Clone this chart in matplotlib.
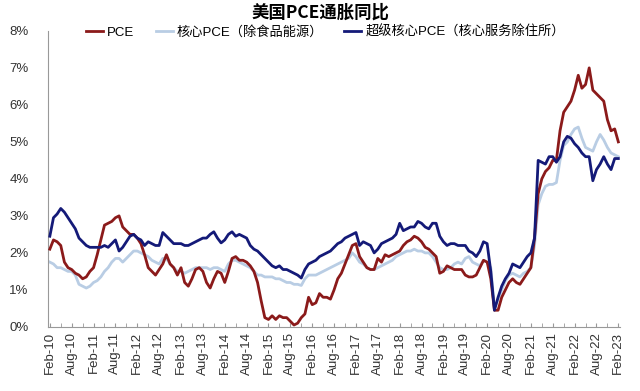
import numpy as np
import pandas as pd
import matplotlib
matplotlib.use("Agg")
import matplotlib.pyplot as plt

plt.rcParams['font.family'] = ['Liberation Sans', 'Noto Sans CJK SC', 'DejaVu Sans']

# monthly, Feb-10 .. Feb-23 (YoY %)
start = "2010-02-01"

pce = [
    2.1, 2.35, 2.3, 2.2, 1.75, 1.6, 1.55, 1.45, 1.4, 1.3, 1.35, 1.5,
    1.6, 1.95, 2.35, 2.75, 2.8, 2.85, 2.95, 3.0, 2.7, 2.6, 2.5, 2.5,
    2.4, 2.25, 1.95, 1.6, 1.5, 1.4, 1.55, 1.7, 1.95, 1.7, 1.6, 1.4,
    1.6, 1.2, 1.1, 1.3, 1.55, 1.6, 1.5, 1.2, 1.05, 1.3, 1.5, 1.45,
    1.2, 1.5, 1.85, 1.9, 1.8, 1.8, 1.75, 1.65, 1.5, 1.2, 0.7, 0.25,
    0.2, 0.3, 0.2, 0.3, 0.25, 0.25, 0.15, 0.05, 0.1, 0.25, 0.35, 0.8,
    0.6, 0.65, 0.9, 0.8, 0.8, 0.75, 1.0, 1.3, 1.45, 1.7, 1.95, 2.2,
    2.25, 1.9, 1.75, 1.6, 1.55, 1.55, 1.85, 1.75, 1.95, 1.9, 1.95, 2.0,
    2.05, 2.2, 2.3, 2.35, 2.45, 2.4, 2.3, 2.15, 2.1, 2.0, 1.9, 1.45,
    1.5, 1.65, 1.6, 1.55, 1.55, 1.55, 1.4, 1.35, 1.35, 1.4, 1.6, 1.8,
    1.75, 1.3, 0.45, 0.45, 0.8, 1.0, 1.2, 1.3, 1.2, 1.15, 1.3, 1.45,
    1.6, 2.4, 3.6, 4.0, 4.2, 4.3, 4.5, 4.5, 5.3, 5.8, 5.95, 6.1,
    6.4, 6.8, 6.45, 6.55, 7.0, 6.4, 6.3, 6.2, 6.1, 5.6, 5.3, 5.35,
    5.0,
]

core = [
    1.75, 1.7, 1.6, 1.6, 1.55, 1.5, 1.5, 1.4, 1.15, 1.1, 1.05, 1.1,
    1.2, 1.25, 1.35, 1.5, 1.6, 1.75, 1.85, 1.85, 1.75, 1.85, 1.95, 2.05,
    2.05, 2.0, 1.95, 1.9, 1.8, 1.75, 1.7, 1.85, 1.85, 1.7, 1.6, 1.5,
    1.5, 1.45, 1.5, 1.55, 1.6, 1.6, 1.6, 1.6, 1.55, 1.6, 1.6, 1.55,
    1.5, 1.7, 1.8, 1.8, 1.75, 1.7, 1.65, 1.6, 1.5, 1.4, 1.4, 1.35,
    1.35, 1.35, 1.3, 1.3, 1.25, 1.2, 1.2, 1.15, 1.15, 1.12, 1.3, 1.4,
    1.4, 1.4, 1.45, 1.5, 1.55, 1.6, 1.65, 1.7, 1.75, 1.8, 1.85, 2.0,
    1.9, 1.75, 1.7, 1.6, 1.55, 1.55, 1.6, 1.65, 1.7, 1.75, 1.8, 1.9,
    1.95, 2.0, 2.05, 2.05, 2.1, 2.05, 2.05, 2.0, 2.0, 1.9, 1.75, 1.6,
    1.55, 1.55, 1.6, 1.7, 1.75, 1.7, 1.85, 1.9, 1.75, 1.7, 1.65, 1.8,
    1.75, 1.6, 0.5, 0.75, 1.0, 1.25, 1.4, 1.45, 1.4, 1.35, 1.45, 1.5,
    1.6, 2.2, 3.3, 3.6, 3.8, 3.85, 3.85, 3.9, 4.5, 4.9, 5.0, 5.2,
    5.35, 5.4, 5.1, 4.85, 4.8, 4.75, 5.0, 5.2, 5.05, 4.85, 4.7, 4.65,
    4.6,
]

supercore = [
    2.45, 2.95, 3.05, 3.2, 3.1, 2.95, 2.8, 2.65, 2.4, 2.3, 2.2, 2.15,
    2.15, 2.15, 2.15, 2.2, 2.15, 2.25, 2.35, 2.05, 2.15, 2.3, 2.45, 2.5,
    2.4, 2.35, 2.2, 2.3, 2.25, 2.2, 2.2, 2.55, 2.45, 2.35, 2.25, 2.25,
    2.25, 2.2, 2.2, 2.25, 2.3, 2.35, 2.4, 2.4, 2.5, 2.57, 2.4, 2.27,
    2.35, 2.5, 2.57, 2.45, 2.5, 2.45, 2.4, 2.2, 2.1, 2.05, 1.95, 1.85,
    1.75, 1.65, 1.6, 1.65, 1.55, 1.55, 1.5, 1.45, 1.4, 1.32, 1.55, 1.7,
    1.75, 1.8, 1.9, 1.95, 2.0, 2.05, 2.15, 2.25, 2.3, 2.4, 2.45, 2.5,
    2.55, 2.2, 2.3, 2.25, 2.2, 2.0, 2.1, 2.25, 2.3, 2.35, 2.4, 2.5,
    2.8, 2.6, 2.65, 2.7, 2.7, 2.85, 2.8, 2.7, 2.65, 2.8, 2.8, 2.45,
    2.3, 2.2, 2.25, 2.25, 2.2, 2.2, 2.2, 2.05, 2.0, 1.9, 2.05, 2.3,
    2.25, 1.5, 0.45, 0.8, 1.1, 1.3, 1.45, 1.7, 1.65, 1.6, 1.75, 1.9,
    2.0, 2.4, 4.5, 4.45, 4.4, 4.6, 4.6, 4.45, 4.6, 5.0, 5.15, 5.1,
    4.95, 4.85, 4.7, 4.6, 4.6, 3.95, 4.25, 4.4, 4.6, 4.4, 4.25, 4.55,
    4.55,
]

labels = ['PCE', '核心PCE（除食品能源）', '超级核心PCE（核心服务除住所）']
colors = ['#8b1a1a', '#b9cde4', '#141a78']

dates = pd.date_range(start, periods=len(pce), freq='MS')
x = np.arange(len(pce))

fig = plt.figure(figsize=(6.4, 3.91), dpi=100)
ax = fig.add_axes([0.075, 0.164, 0.894, 0.757])

ax.plot(x, core, color=colors[1], lw=2.0, label=labels[1], zorder=2)
ax.plot(x, pce, color=colors[0], lw=2.0, label=labels[0], zorder=3)
ax.plot(x, supercore, color=colors[2], lw=2.0, label=labels[2], zorder=4)

ax.set_xlim(-0.5, len(pce) - 0.5)
ax.set_ylim(0, 8)
ax.set_yticks(range(0, 9))
ax.set_yticklabels([f'{v}%' for v in range(0, 9)], fontsize=9.5, color='#333333')

ax.set_xticks(x[::6])
ax.set_xticklabels([d.strftime('%b-%y') for d in dates[::6]], rotation=90,
                   fontsize=9.5, color='#333333')
ax.set_xticks(x[::3], minor=True)
ax.tick_params(axis='x', which='both', direction='in', length=3, color='#999999')
ax.tick_params(axis='y', length=0, pad=14)

for s in ['top', 'right']:
    ax.spines[s].set_visible(False)
ax.spines['left'].set_color('#999999')
ax.spines['bottom'].set_color('#999999')

# legend order as in the picture
h, l = ax.get_legend_handles_labels()
order = [1, 0, 2]
ax.legend([h[i] for i in order], [l[i] for i in order], loc='center',
          bbox_to_anchor=(0.485, 0.995), ncol=3, frameon=False,
          handlelength=1.3, handletextpad=0.3, columnspacing=1.6,
          prop={'family': ['Liberation Sans', 'Noto Sans CJK SC'], 'size': 9.5})

fig.suptitle('美国PCE通胀同比', x=0.5, y=0.99, fontsize=12.5, fontweight='bold',
             family=['Noto Sans CJK SC', 'DejaVu Sans'])

fig.savefig('out.png', dpi=100)
